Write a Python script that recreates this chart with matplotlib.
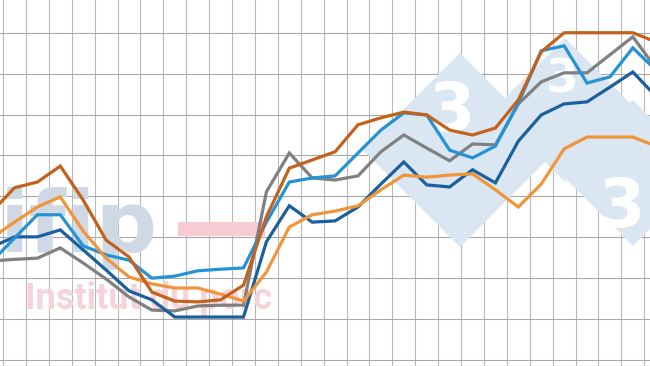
import matplotlib
matplotlib.use('Agg')
import matplotlib.pyplot as plt
from matplotlib.patches import Polygon, Rectangle
import numpy as np

# week index (the view is a crop of a longer series)
weeks = list(range(-1, 29))

dark_orange = [1.362, 1.421, 1.435, 1.474, 1.391, 1.293, 1.252, 1.166, 1.144, 1.142,
               1.147, 1.183, 1.350, 1.469, 1.489, 1.509, 1.575, 1.592, 1.606, 1.599,
               1.562, 1.550, 1.567, 1.636, 1.753, 1.800, 1.800, 1.800, 1.800, 1.778]
light_blue = [1.240, 1.298, 1.355, 1.355, 1.279, 1.257, 1.244, 1.200, 1.205, 1.218,
              1.222, 1.225, 1.337, 1.435, 1.445, 1.450, 1.506, 1.562, 1.604, 1.599,
              1.513, 1.494, 1.523, 1.628, 1.756, 1.768, 1.677, 1.692, 1.763, 1.709]
grey = [1.242, 1.246, 1.249, 1.274, 1.237, 1.198, 1.154, 1.122, 1.120, 1.132,
        1.134, 1.134, 1.411, 1.506, 1.445, 1.440, 1.450, 1.509, 1.550, 1.518,
        1.487, 1.528, 1.526, 1.626, 1.680, 1.702, 1.702, 1.746, 1.790, 1.714]
dark_blue = [1.276, 1.301, 1.301, 1.318, 1.269, 1.220, 1.169, 1.147, 1.105, 1.105,
             1.105, 1.105, 1.289, 1.377, 1.337, 1.340, 1.374, 1.430, 1.484, 1.428,
             1.423, 1.465, 1.433, 1.535, 1.599, 1.626, 1.631, 1.667, 1.704, 1.645]
light_orange = [1.298, 1.337, 1.374, 1.399, 1.315, 1.249, 1.203, 1.186, 1.176, 1.176,
                1.161, 1.144, 1.215, 1.325, 1.355, 1.364, 1.377, 1.416, 1.452, 1.447,
                1.452, 1.455, 1.416, 1.374, 1.430, 1.516, 1.545, 1.545, 1.545, 1.523]

series = [
    (grey, '#808080'),
    (dark_blue, '#1b5f9d'),
    (light_blue, '#2592d6'),
    (light_orange, '#f0953a'),
    (dark_orange, '#c4621d'),
]

fig = plt.figure(figsize=(6.5, 3.66), dpi=100)
ax = fig.add_axes([0, 0, 1, 1])
ax.set_xlim(-0.633, 27.75)
ax.set_ylim(0.9853, 1.880)

# grid
for gx in np.arange(-0.5, 28, 1.0):
    ax.axvline(gx, color='#b8b8b8', lw=0.8, zorder=0)
for gy in np.arange(1.0, 1.85, 0.1):
    ax.axhline(gy, color='#a8a8a8', lw=0.8, zorder=0)

# watermark (ifip logo), drawn in axes fraction
tr = ax.transAxes
W, H = 650.0, 366.0


def diamond(cx, cy, r):
    pts = [(cx, cy - r), (cx + r, cy), (cx, cy + r), (cx - r, cy)]
    return Polygon([(x / W, 1 - y / H) for x, y in pts], closed=True,
                   transform=tr, facecolor='#dae6f2', edgecolor='none', zorder=1)


for cx, cy, r in [(460, 150, 97), (565, 110, 72), (633, 173, 73)]:
    ax.add_patch(diamond(cx, cy, r))
for cx, cy, s in [(452, 112, 48), (562, 80, 34), (622, 208, 48)]:
    ax.text(cx / W, 1 - cy / H, '3', transform=tr, fontsize=s, color='white',
            fontweight='bold', ha='center', va='center', zorder=1)

ax.text(0, 1 - 252 / H, 'ifip', transform=tr, fontsize=62, color='#cfd9e6',
        fontweight='bold', ha='left', va='baseline', zorder=1)
ax.add_patch(Rectangle((178 / W, 1 - 236 / H), 87 / W, 14 / H, transform=tr,
                       facecolor='#f9ccd4', edgecolor='none', zorder=1))
ax.text(25 / W, 1 - 309 / H, 'Institut du porc', transform=tr, fontsize=26,
        family='Roboto', color='#f6d3da', fontweight='bold', ha='left',
        va='baseline', zorder=1)

for values, color in series:
    ax.plot(weeks, values, color=color, lw=2.3, solid_joinstyle='miter', zorder=3)

ax.axis('off')
fig.savefig('out.png', dpi=100)
